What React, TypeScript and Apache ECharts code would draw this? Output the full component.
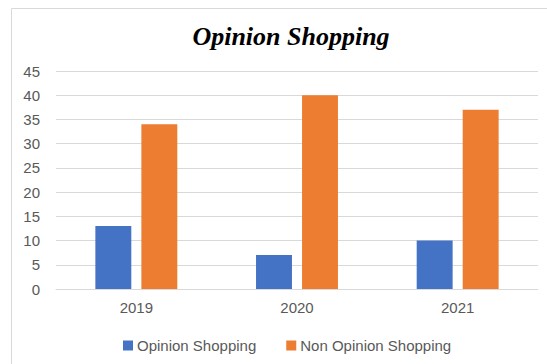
import React, { useEffect, useRef } from "react";
import * as echarts from "echarts";

const categories = ["2019", "2020", "2021"];
const opinionShopping = [13, 7, 10];
const nonOpinionShopping = [34, 40, 37];
const seriesNames = ["Opinion Shopping", "Non Opinion Shopping"];
const titleText = "Opinion Shopping";

export default function App() {
  const ref = useRef<HTMLDivElement>(null);
  useEffect(() => {
    if (!ref.current) return;
    const chart = echarts.init(ref.current, null, { renderer: "svg" });
    const font = "'Liberation Sans', Arial, sans-serif";
    chart.setOption({
      animation: false,
      backgroundColor: "#ffffff",
      graphic: [
        {
          type: "rect",
          shape: { x: 11.5, y: 8.5, width: 560, height: 400 },
          style: { fill: "none", stroke: "#d9d9d9", lineWidth: 1 },
          silent: true,
          z: -1,
        },
      ],
      title: {
        text: titleText,
        left: 286,
        textAlign: "center",
        top: 18,
        textStyle: {
          fontFamily: "'Liberation Serif', 'Times New Roman', serif",
          fontStyle: "italic",
          fontWeight: "bold",
          fontSize: 26,
          color: "#000000",
        },
      },
      legend: {
        data: seriesNames,
        left: 118,
        top: 333,
        width: 420,
        itemWidth: 10,
        itemHeight: 10,
        itemGap: 30,
        icon: "rect",
        textStyle: { fontFamily: font, fontSize: 15, color: "#595959", padding: [0, 0, 0, -1] },
      },
      grid: { left: 56, right: 9, top: 71, bottom: 75 },
      xAxis: {
        type: "category",
        data: categories,
        axisLine: { lineStyle: { color: "#d9d9d9", width: 1 } },
        axisTick: { show: false },
        axisLabel: { fontFamily: font, fontSize: 15, color: "#595959", margin: 11 },
      },
      yAxis: {
        type: "value",
        min: 0,
        max: 45,
        interval: 5,
        axisLine: { show: false },
        axisTick: { show: false },
        axisLabel: { fontFamily: font, fontSize: 15, color: "#595959", margin: 16, align: "right" },
        splitLine: { lineStyle: { color: "#d9d9d9", width: 1 } },
      },
      series: [
        {
          name: seriesNames[0],
          type: "bar",
          data: opinionShopping,
          itemStyle: { color: "#4472C4" },
          barGap: "28%",
          barCategoryGap: "49%",
        },
        {
          name: seriesNames[1],
          type: "bar",
          data: nonOpinionShopping,
          itemStyle: { color: "#ED7D31" },
          barGap: "28%",
          barCategoryGap: "49%",
        },
      ],
    });
    return () => chart.dispose();
  }, []);
  return (
    <div
      ref={ref}
      style={{ position: "fixed", left: 0, top: 0, width: 547, height: 364 }}
    />
  );
}
